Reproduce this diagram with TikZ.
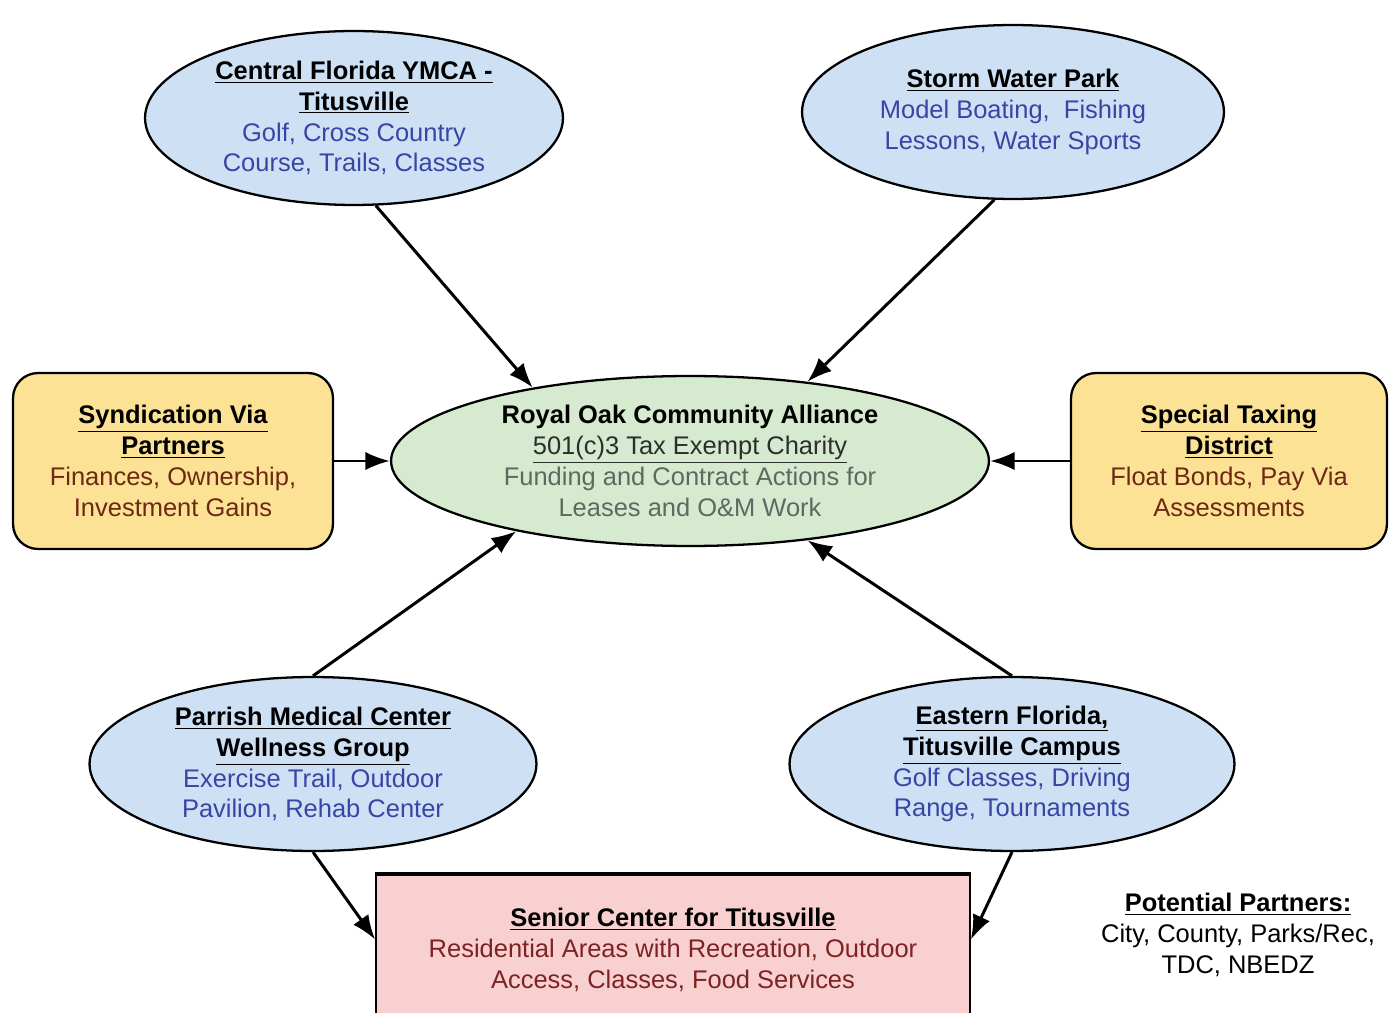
\documentclass[tikz,border=0pt]{standalone}
\usepackage{fontspec}
\setmainfont{Liberation Sans}
\definecolor{partnerblue}{RGB}{206, 224, 244}
\definecolor{partnerink}{RGB}{55, 70, 165}
\definecolor{alliancegreen}{RGB}{214, 234, 208}
\definecolor{allianceink}{RGB}{95, 105, 95}
\definecolor{fundorange}{RGB}{252, 226, 148}
\definecolor{fundink}{RGB}{110, 40, 20}
\definecolor{seniorpink}{RGB}{248, 208, 208}
\definecolor{seniorink}{RGB}{125, 35, 35}
\usetikzlibrary{shapes.geometric, arrows.meta, positioning, calc}

\begin{document}
\begin{tikzpicture}[
  x=0.02cm, y=-0.02cm,
  every node/.style={font=\fontsize{14.5}{17.6}\selectfont, align=center, inner sep=0pt},
  partnerell/.style={draw, ellipse, line width=1.3pt, fill=partnerblue, minimum width=8.4cm, minimum height=3.48cm},
  fundbox/.style={draw, rounded corners=0.5cm, line width=1.3pt, fill=fundorange, minimum width=6.4cm, minimum height=3.52cm},
  link/.style={-{Latex[length=14pt, width=10.5pt]}, line width=1.7pt}
]
  \useasboundingbox (0,0) rectangle (1389,1013);

  % Centre: the alliance
  \node[draw, ellipse, line width=1.3pt, fill=alliancegreen, minimum width=11.96cm, minimum height=3.4cm] (alliance) at (690, 461) {
    \textbf{Royal Oak Community Alliance}\\
    \textcolor{allianceink!45!black}{\underline{501(c)3 Tax Exempt Charity}}\\
    \textcolor{allianceink}{Funding and Contract Actions for}\\
    \textcolor{allianceink}{Leases and O\&M Work}
  };

  % Top row
  \node[partnerell, minimum width=8.36cm] (ymca) at (354, 118) {
    \textbf{\underline{Central Florida YMCA -}}\\
    \textbf{\underline{Titusville}}\\
    \textcolor{partnerink}{Golf, Cross Country}\\
    \textcolor{partnerink}{Course, Trails, Classes}
  };
  \node[partnerell, minimum width=8.44cm] (storm) at (1013, 112) {
    \textbf{\underline{Storm Water Park}}\\
    \textcolor{partnerink}{Model Boating,\ \ Fishing}\\
    \textcolor{partnerink}{Lessons, Water Sports}
  };

  % Funding sides
  \node[fundbox] (syndication) at (173, 461) {
    \textbf{\underline{Syndication Via}}\\
    \textbf{\underline{Partners}}\\
    \textcolor{fundink}{Finances, Ownership,}\\
    \textcolor{fundink}{Investment Gains}
  };
  \node[fundbox, minimum width=6.32cm] (taxing) at (1229, 461) {
    \textbf{\underline{Special Taxing}}\\
    \textbf{\underline{District}}\\
    \textcolor{fundink}{Float Bonds, Pay Via}\\
    \textcolor{fundink}{Assessments}
  };

  % Bottom row
  \node[partnerell, minimum width=8.94cm] (parrish) at (313, 764) {
    \textbf{\underline{Parrish Medical Center}}\\
    \textbf{\underline{Wellness Group}}\\
    \textcolor{partnerink}{Exercise Trail, Outdoor}\\
    \textcolor{partnerink}{Pavilion, Rehab Center}
  };
  \node[partnerell, minimum width=8.9cm] (eastern) at (1012, 764) {
    \textbf{\underline{Eastern Florida,}}\\
    \textbf{\underline{Titusville Campus}}\\
    \textcolor{partnerink}{Golf Classes, Driving}\\
    \textcolor{partnerink}{Range, Tournaments}
  };

  % Senior center
  \node[draw, line width=1pt, fill=seniorpink, minimum width=11.88cm, minimum height=3cm] (senior) at (673, 950) {
    \textbf{\underline{Senior Center for Titusville}}\\
    \textcolor{seniorink}{Residential Areas with Recreation, Outdoor}\\
    \textcolor{seniorink}{Access, Classes, Food Services}
  };
  \draw[line width=2.6pt] (senior.north west) -- (senior.north east);

  % Note
  \node (note) at (1238, 935) {
    \textbf{\underline{Potential Partners:}}\\
    City, County, Parks/Rec,\\
    TDC, NBEDZ
  };

  % Connectors
  \draw[link] (ymca.-76) -- (alliance.155);
  \draw[link] (storm.-102) -- (alliance.34);
  \draw[link] (syndication.east) -- (alliance.west);
  \draw[link] (taxing.west) -- (alliance.east);
  \draw[link] (parrish.north) -- (alliance.202);
  \draw[link] (eastern.north) -- (alliance.-34);
  \draw[link] (parrish.south) -- (senior.178);
  \draw[link] (eastern.south) -- (senior.2);
\end{tikzpicture}
\end{document}
